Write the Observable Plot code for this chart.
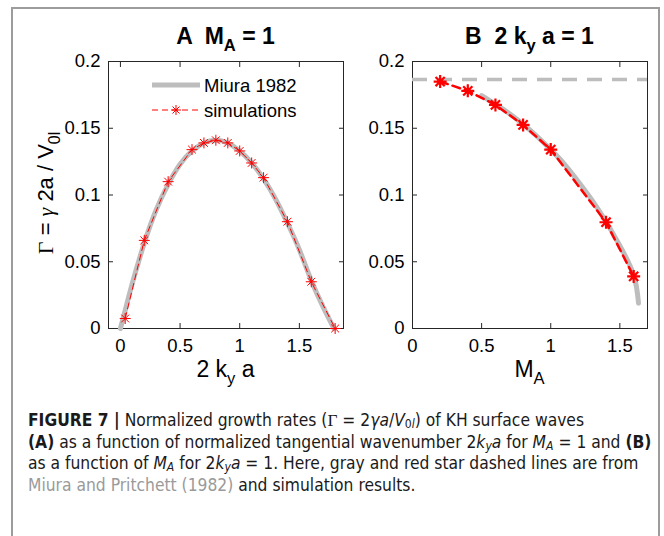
<!DOCTYPE html>
<html><head><meta charset="utf-8">
<script src="https://cdn.jsdelivr.net/npm/d3@7"></script>
<script src="https://cdn.jsdelivr.net/npm/@observablehq/plot@0.6"></script>
<style>
html,body{margin:0;padding:0;background:#fff;}
#wrap{position:relative;width:664px;height:536px;overflow:hidden;background:#fff;font-family:"Liberation Sans",Arial,Helvetica,sans-serif;color:#000;}
.frame{position:absolute;left:11px;top:7px;width:649px;height:600px;border:2px solid #9c9c9c;box-sizing:border-box;}
.pane{position:absolute;top:0;}
.title{position:absolute;top:25px;font-weight:bold;font-size:23px;line-height:23px;text-align:center;white-space:pre;}
.xl{position:absolute;top:358px;font-size:23px;line-height:23px;text-align:center;white-space:pre;}
sub{font-size:0.72em;vertical-align:-0.42em;line-height:0;}
.yl{position:absolute;left:46px;top:193px;transform:translate(-50%,-50%) rotate(-90deg);font-size:22px;line-height:22px;white-space:pre;}
.serif{font-family:"Liberation Serif","Times New Roman",serif;}
.legend{position:absolute;left:0;top:0;}
.caption{position:absolute;left:28px;top:410px;font-family:"Liberation Sans Narrow","Arial Narrow","DejaVu Sans Condensed",sans-serif;font-size:17.3px;line-height:21.6px;color:#1a1a1a;white-space:nowrap;}
.caption sub{font-size:0.7em;vertical-align:-0.2em;}
</style></head>
<body>
<div id="wrap">
  <div class="frame"></div>
  <div id="paneA" class="pane" style="left:0"></div>
  <div id="paneB" class="pane" style="left:350px"></div>
  <div class="title" style="left:108px;width:235px">A  M<sub>A</sub> = 1</div>
  <div class="title" style="left:412px;width:235px">B  2 k<sub>y</sub> a = 1</div>
  <div class="xl" style="left:108px;width:235px">2 k<sub>y</sub> a</div>
  <div class="xl" style="left:412px;width:235px">M<sub>A</sub></div>
  <div class="yl"><span class="serif">Γ</span> = <span class="serif"><i>γ</i></span> 2a / V<sub>0l</sub></div>
  <svg class="legend" width="350" height="130">
    <line x1="152" x2="200" y1="85" y2="85" stroke="#bdbdbd" stroke-width="5"/>
    <line x1="152" x2="200" y1="110" y2="110" stroke="red" stroke-width="1" stroke-dasharray="6,4"/>
    <path d="M171,110H181M176,105V115M172.5,106.5L179.5,113.5M172.5,113.5L179.5,106.5" stroke="red" stroke-width="1" fill="none"/>
    <text x="204" y="92" font-size="18.5" font-family="Liberation Sans, Arial, sans-serif">Miura 1982</text>
    <text x="204" y="117" font-size="18.5" font-family="Liberation Sans, Arial, sans-serif">simulations</text>
  </svg>
  <div class="caption"><b>FIGURE 7 |</b> Normalized growth rates (<span class="serif">Γ</span> = 2<i>γa</i>/<i>V</i><sub>0<i>l</i></sub>) of KH surface waves<br><b>(A)</b> as a function of normalized tangential wavenumber 2<i>k<sub>y</sub>a</i> for <i>M<sub>A</sub></i> = 1 and <b>(B)</b><br>as a function of <i>M<sub>A</sub></i> for 2<i>k<sub>y</sub>a</i> = 1. Here, gray and red star dashed lines are from<br><span style="color:#9a9a9a">Miura and Pritchett (1982)</span> and simulation results.</div>
</div>
<script>
// ---- Data ----
// Panel A: growth rate vs 2 k_y a (M_A = 1)
const kMiuraA = [0, 0.05, 0.1, 0.2, 0.3, 0.4, 0.5, 0.6, 0.7, 0.8, 0.9, 1.0, 1.1, 1.2, 1.3, 1.4, 1.5, 1.6, 1.7, 1.79];
const gMiuraA = [0, 0.017, 0.034, 0.064, 0.089, 0.108, 0.123, 0.133, 0.139, 0.141, 0.139, 0.133, 0.124, 0.112, 0.097, 0.079, 0.059, 0.036, 0.016, 0];
const kSimA = [0.04, 0.2, 0.4, 0.6, 0.7, 0.8, 0.9, 1.0, 1.1, 1.2, 1.4, 1.6, 1.8];
const gSimA = [0.0075, 0.066, 0.110, 0.134, 0.139, 0.141, 0.139, 0.133, 0.124, 0.113, 0.080, 0.035, 0.0];
// Panel B: growth rate vs M_A (2 k_y a = 1)
const mMiuraB = [0.5, 0.6, 0.7, 0.8, 0.9, 1.0, 1.1, 1.2, 1.3, 1.4, 1.5, 1.6, 1.635];
const gMiuraB = [0.1745, 0.168, 0.161, 0.153, 0.144, 0.134, 0.123, 0.110, 0.096, 0.080, 0.062, 0.040, 0.019];
const gLimitB = 0.1865;
const mSimB = [0.2, 0.4, 0.6, 0.8, 1.0, 1.4, 1.6];
const gSimB = [0.185, 0.178, 0.1675, 0.1525, 0.134, 0.0796, 0.039];
// Ticks
const xTicksA = [0, 0.5, 1, 1.5];
const xTicksB = [0, 0.5, 1, 1.5];
const yTicks = [0, 0.05, 0.1, 0.15, 0.2];

const zip = (xs, ys) => xs.map((x, i) => ({x, y: ys[i]}));

// MATLAB-style 8-armed star marker
const star = {
  draw(ctx, size) {
    const r = Math.sqrt(size / Math.PI), d = r * Math.SQRT1_2;
    ctx.moveTo(-r, 0); ctx.lineTo(r, 0);
    ctx.moveTo(0, -r); ctx.lineTo(0, r);
    ctx.moveTo(-d, -d); ctx.lineTo(d, d);
    ctx.moveTo(-d, d); ctx.lineTo(d, -d);
  }
};

const fmt = d => String(d);
function axes(xt, yt) {
  return [
    Plot.axisX(xt, {anchor: "bottom", tickSize: -5, tickPadding: 15, tickFormat: fmt, label: null, stroke: "#262626"}),
    Plot.axisX(xt, {anchor: "top", tickSize: -5, tickFormat: () => "", label: null, stroke: "#262626"}),
    Plot.axisY(yt, {anchor: "left", tickSize: -5, tickPadding: 13, tickFormat: fmt, label: null, stroke: "#262626"}),
    Plot.axisY(yt, {anchor: "right", tickSize: -5, tickFormat: () => "", label: null, stroke: "#262626"}),
    Plot.frame({stroke: "#262626", strokeWidth: 1})
  ];
}
const style = {fontFamily: "Liberation Sans, Arial, sans-serif", fontSize: "18.5px", color: "#000", background: "transparent", overflow: "visible"};

const plotA = Plot.plot({
  width: 350, height: 400,
  marginLeft: 108, marginRight: 7, marginTop: 61, marginBottom: 72,
  style,
  x: {domain: [-0.1, 1.87]},
  y: {domain: [0, 0.2]},
  marks: [
    ...axes(xTicksA, yTicks),
    Plot.line(zip(kMiuraA, gMiuraA), {x: "x", y: "y", stroke: "#bdbdbd", strokeWidth: 5, curve: "natural"}),
    Plot.line(zip(kSimA, gSimA), {x: "x", y: "y", stroke: "red", strokeWidth: 1, strokeDasharray: "6,4"}),
    Plot.dot(zip(kSimA, gSimA), {x: "x", y: "y", symbol: star, r: 5.5, stroke: "red", strokeWidth: 1, fill: "none"})
  ]
});
document.getElementById("paneA").append(plotA);

const plotB = Plot.plot({
  width: 314, height: 400,
  marginLeft: 62, marginRight: 17, marginTop: 61, marginBottom: 72,
  style,
  x: {domain: [0, 1.7]},
  y: {domain: [0, 0.2]},
  marks: [
    ...axes(xTicksB, yTicks),
    Plot.ruleY([gLimitB], {stroke: "#bdbdbd", strokeWidth: 3.5, strokeDasharray: "15,10"}),
    Plot.line(zip(mMiuraB, gMiuraB), {x: "x", y: "y", stroke: "#bdbdbd", strokeWidth: 5, curve: "natural"}),
    Plot.line(zip(mSimB, gSimB), {x: "x", y: "y", stroke: "red", strokeWidth: 2.5, strokeDasharray: "8,5"}),
    Plot.dot(zip(mSimB, gSimB), {x: "x", y: "y", symbol: star, r: 6.5, stroke: "red", strokeWidth: 2.2, fill: "none"})
  ]
});
document.getElementById("paneB").append(plotB);
</script>
</body></html>
